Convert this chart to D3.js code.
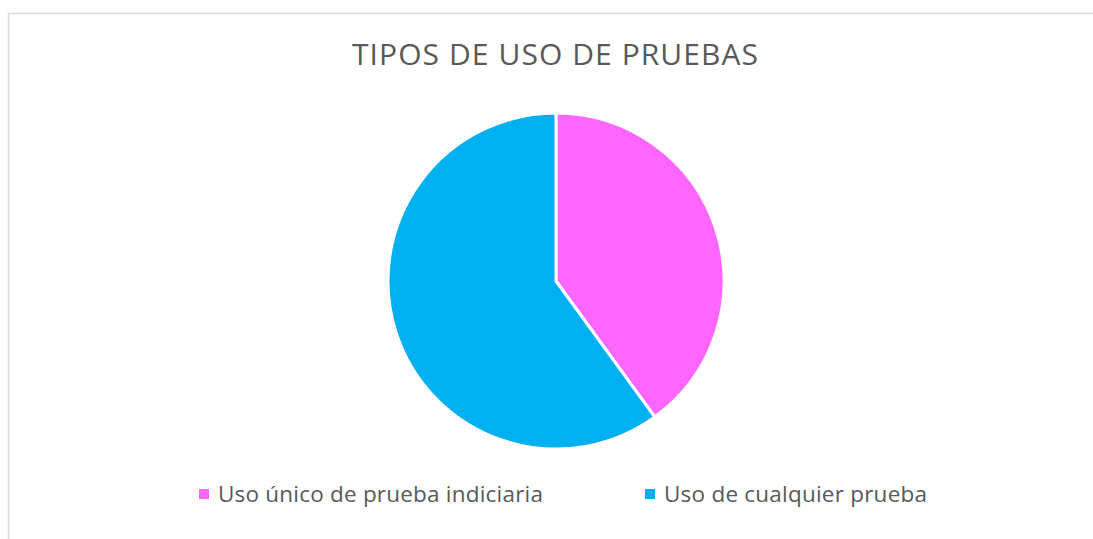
<!DOCTYPE html>
<html>
<head>
<meta charset="utf-8">
<script src="https://cdn.jsdelivr.net/npm/d3@7"></script>
<style>
  body { margin: 0; background: #fff; }
  text { font-family: "Open Sans", "Liberation Sans", sans-serif; fill: #595959; }
</style>
</head>
<body>
<svg id="svg"></svg>
<script>
var title = "TIPOS DE USO DE PRUEBAS";
var categories = ["Uso único de prueba indiciaria", "Uso de cualquier prueba"];
var values = [40, 60];
var colors = ["#FF66FF", "#00B0F0"];

var width = 1093, height = 539;
var svg = d3.select("#svg").attr("width", width).attr("height", height);

// marco del gráfico
svg.append("path")
    .attr("d", "M8.5," + height + " V13.5 H" + width)
    .attr("fill", "none")
    .attr("stroke", "#d9d9d9")
    .attr("stroke-width", 1.5);

svg.append("text")
    .attr("x", 352)
    .attr("y", 65)
    .attr("font-size", 30)
    .attr("textLength", 406)
    .attr("lengthAdjust", "spacing")
    .text(title);

var cx = 556, cy = 281, r = 168;
var pie = d3.pie().sort(null).value(d => d);
var arc = d3.arc().innerRadius(0).outerRadius(r);

svg.append("g")
    .attr("transform", `translate(${cx}, ${cy})`)
    .selectAll("path")
    .data(pie(values))
    .join("path")
    .attr("d", arc)
    .attr("fill", (d, i) => colors[i])
    .attr("stroke", "#fff")
    .attr("stroke-width", 3)
    .attr("stroke-linejoin", "round");

var legendX = [199, 645];
var legendW = [325, 263];
var legend = svg.append("g");
categories.forEach((c, i) => {
    legend.append("rect")
        .attr("x", legendX[i])
        .attr("y", 489)
        .attr("width", 10)
        .attr("height", 10)
        .attr("fill", colors[i]);
    legend.append("text")
        .attr("x", legendX[i] + 19)
        .attr("y", 502)
        .attr("font-size", 22.5)
        .attr("textLength", legendW[i])
        .attr("lengthAdjust", "spacing")
        .text(c);
});
</script>
</body>
</html>
